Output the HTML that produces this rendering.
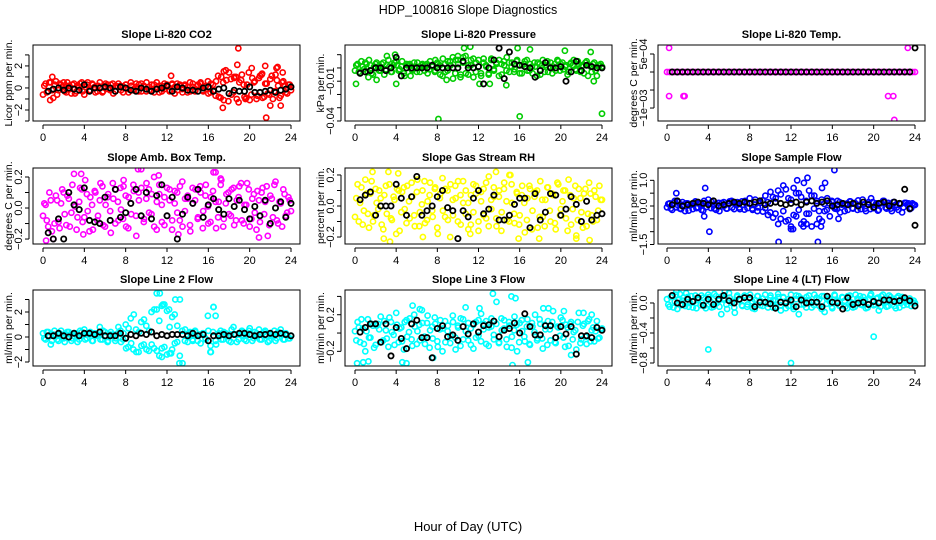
<!DOCTYPE html>
<html><head><meta charset="utf-8"><style>
html,body{margin:0;padding:0;background:#fff;}
svg{display:block;font-family:"Liberation Sans",Arial,sans-serif;}
</style></head><body>
<svg id="chart" width="936" height="540" viewBox="0 0 936 540" xmlns="http://www.w3.org/2000/svg">
<text x="468" y="14" text-anchor="middle" font-size="12.5">HDP_100816  Slope Diagnostics</text>
<text x="468" y="531" text-anchor="middle" font-size="13">Hour of Day (UTC)</text>
</svg>
<script>
// ---- data ----
const co2Col = [-0.6,0.4,-0.3,0.5,-0.9,0.6,-0.2,0.3,0.5,-0.4,0.2,-0.5,0.4,-0.3,0.1,0.5,-0.6,0.3,-0.2,0.4,0.1,-0.3,0.5,-0.4,0.2,0.3,-0.2,0.4,-0.3,0.1,0.2,-0.4,0.3,-0.1,0.5,-0.2,0.1,-0.3,0.4,0.2,-0.3,0.1,-0.2,0.3,0.5,-0.4,0.2,-0.1,0.3,-0.3,0.4,0.1,-0.2,0.3,-0.4,0.2,0.1,-0.3,0.4,-0.2,0.3,0.5,-0.3,0.2,-0.5,0.4,-0.2,0.6,-0.8,1.0,-1.1,0.7,1.4,-0.6,0.9,-1.0,0.5,1.2,-0.8,0.3,-1.1,0.9,0.6,-0.7,1.1,-0.9,0.4,-0.5,0.8,-1.0,1.2,0.2,-0.7,0.6,-0.4,0.3,-0.2];
const co2Col2 = [0.2,-0.4,0.5,-0.2,0.3,-0.6,0.4,0.1,-0.3,0.5,-0.1,0.3,-0.5,0.2,0.4,-0.3,0.1,0.5,-0.2,0.3,-0.4,0.2,0.1,-0.3,0.4,-0.1,0.3,-0.5,0.2,0.4,-0.2,0.1,0.3,-0.4,0.2,-0.1,0.4,0.3,-0.3,0.1,0.5,-0.2,0.3,-0.4,0.1,0.2,-0.3,0.4,0.1,-0.2,0.3,-0.5,0.4,0.2,-0.1,0.3,-0.4,0.5,0.1,-0.3,0.2,0.4,-0.2,0.1,0.6,-0.4,0.3,-0.7,1.1,-0.9,0.5,1.6,-1.2,0.8,-0.4,1.0,-1.3,0.7,0.3,-0.9,1.4,-0.6,0.5,-1.0,0.9,1.2,-0.8,0.4,-0.6,1.1,-0.3,0.7,-0.9,0.5,0.2,-0.5,0.3];
const co2Out = [[0.7,-1.1],[0.9,1.0],[12.4,1.1],[17.5,1.5],[17.4,-1.8],[18.9,3.6],[18.8,2.1],[18.5,1.0],[19.6,-1.0],[20.2,1.8],[21.5,2.0],[21.6,-2.7],[22.0,-1.6],[22.6,1.8],[23.0,-1.6],[23.2,1.4],[21.2,1.3],[22.7,1.9]];
const co2Mean = [-0.3,-0.1,0,-0.2,0,-0.1,-0.2,0.3,-0.3,0,0,0.1,0,-0.3,0.1,0,-0.2,-0.3,0,-0.1,-0.3,-0.1,0,0.2,-0.3,0.1,0,-0.2,-0.2,-0.3,0,0.1,-0.3,-0.1,0,-0.5,-0.2,-0.3,-0.3,0.1,-0.4,-0.4,-0.3,-0.2,-0.4,-0.2,-0.1,0.1];

const presCol = [-0.002,0.003,-0.004,0.001,0.004,-0.003,0.002,-0.005,0.003,0.001,-0.002,0.004,-0.001,0.006,-0.003,0.002,0.005,-0.002,0.001,-0.004,0.003,0.002,-0.001,0.004,-0.003,0.001,0.002,-0.002,0.003,-0.001,0.001,-0.003,0.004,0.002,-0.006,0.003,-0.002,0.005,0.008,-0.004,0.006,-0.007,0.004,0.009,-0.005,0.002,0.007,-0.003,0.006,-0.006,0.004,0.001,-0.004,0.007,-0.002,0.003,0.006,-0.005,0.002,0.008,-0.003,0.004,-0.001,0.006,-0.004,0.002,0.005,-0.002,0.003,-0.004,0.001,0.004,-0.005,0.006,0.002,-0.003,0.004,0.001,-0.002,0.005,0.003,-0.001,0.002,-0.003,0.004,0.006,-0.002,0.003,0.001,-0.004,0.005,0.002,-0.003,0.004,-0.006,0.002,0.001];
const presCol2 = [0.002,-0.003,0.005,-0.001,0.003,0.006,-0.004,0.001,0.004,-0.002,0.003,-0.005,0.002,0.001,-0.003,0.004,0.002,-0.001,0.005,-0.006,0.002,0.003,-0.002,0.001,0.004,-0.003,0.003,0.002,-0.004,0.005,0.001,-0.002,0.003,-0.005,0.007,-0.003,0.005,0.002,-0.008,0.006,0.003,-0.005,0.008,-0.004,0.002,0.006,-0.007,0.004,0.001,-0.004,0.007,0.002,-0.005,0.006,-0.001,0.004,-0.006,0.003,0.005,-0.002,0.004,0.001,-0.003,0.005,0.002,-0.004,0.003,0.006,-0.002,0.001,0.004,-0.006,0.003,0.002,-0.003,0.005,0.001,-0.004,0.003,0.006,-0.002,0.004,0.001,-0.005,0.003,0.002,-0.001,0.005,-0.003,0.002,0.004,-0.006,0.001,0.003,-0.002,0.002,0.003];
const presOut = [[0.1,-0.012],[1.3,-0.007],[2.1,-0.009],[3.1,0.009],[3.9,0.010],[4,-0.012],[5.4,-0.006],[7.8,0.006],[8.1,-0.0385],[8.9,-0.009],[10,0.009],[10.6,0.015],[11.2,0.016],[12.1,-0.012],[13.1,-0.012],[14.7,-0.013],[15.8,0.015],[16,-0.0365],[17,0.014],[20.4,0.013],[22.9,0.012],[23.2,-0.010],[24,-0.0345]];
const presMean = [-0.004,-0.003,-0.002,0,0,-0.002,0,0.008,-0.006,0,0,0,0,0,0.002,0,0,0,0,0,0.005,0,0,0.001,-0.012,0,0.006,0.015,-0.008,0.012,0.003,0.002,0.001,0,-0.007,-0.002,0.004,0,0,0.001,-0.010,-0.003,0.005,-0.002,0.002,0.001,0,0];

const tempCol = [0,0,0,0,0,0,0,0,0,0,0,0,0,0,0,0,0,0,0,0,0,0,0,0,0,0,0,0,0,0,0,0,0,0,0,0,0,0,0,0,0,0,0,0,0,0,0,0,0,0,0,0,0,0,0,0,0,0,0,0,0,0,0,0,0,0,0,0,0,0,0,0,0,0,0,0,0,0,0,0,0,0,0,0,0,0,0,0,0,0,0,0,0,0,0,0,0];
const tempCol2 = [];
const tempOut = [[0.2,0.00067],[23.3,0.00067],[0.2,-0.00067],[1.6,-0.00067],[1.7,-0.00067],[21.4,-0.00067],[21.9,-0.00067],[22.0,-0.00133]];
const tempMean = [0,0,0,0,0,0,0,0,0,0,0,0,0,0,0,0,0,0,0,0,0,0,0,0,0,0,0,0,0,0,0,0,0,0,0,0,0,0,0,0,0,0,0,0,0,0,0,0.00067];

const ambCol = [-0.05,0.02,-0.12,0.05,-0.2,0.08,-0.09,0.03,0.1,-0.11,0.06,-0.03,0.22,-0.14,0.04,0.12,-0.06,0.09,-0.15,0.02,0.11,-0.08,0.05,0.14,-0.12,0.07,-0.02,0.16,-0.1,0.04,0.13,-0.07,0.08,-0.13,0.03,0.15,-0.05,0.1,0.25,-0.09,0.06,0.12,-0.04,0.2,-0.14,0.09,0.02,-0.11,0.13,0.05,-0.08,0.11,-0.03,0.14,-0.12,0.06,0.08,-0.15,0.03,0.12,-0.06,0.1,-0.02,0.15,-0.1,0.07,0.23,-0.13,0.04,0.18,-0.07,0.09,-0.04,0.12,-0.11,0.05,0.14,-0.08,0.02,0.16,-0.12,0.06,-0.03,0.11,-0.09,0.13,0.04,-0.18,0.08,-0.06,0.17,-0.1,0.03,0.12,-0.05,0.07,-0.02];
const ambCol2 = [0.03,-0.08,0.1,-0.15,-0.1,0.05,-0.13,0.12,-0.04,0.08,-0.12,0.15,0.01,-0.06,0.13,-0.09,0.18,-0.02,0.07,-0.14,0.1,-0.05,0.16,-0.11,0.02,0.09,-0.16,0.06,0.12,-0.08,-0.01,0.14,-0.12,0.07,-0.04,0.11,-0.18,0.05,0.13,-0.07,0.16,-0.03,0.09,-0.12,0.04,0.15,-0.09,0.07,-0.05,0.12,-0.14,0.03,0.1,-0.08,0.17,-0.02,0.06,-0.11,0.13,0.05,-0.07,0.14,-0.13,0.08,0.01,-0.09,0.11,0.04,-0.06,0.15,-0.12,0.03,0.1,-0.05,0.13,-0.08,0.07,0.16,-0.1,0.02,0.12,-0.07,0.09,-0.14,0.05,0.1,-0.04,0.14,-0.11,0.06,0.15,-0.08,0.04,-0.12,0.09,-0.03,0.05];
const ambOut = [[0.3,-0.21],[3.7,0.22],[9.2,0.25],[16.7,0.23],[11.2,0.21],[20.9,-0.19],[17.2,0.19],[13.1,-0.17],[3.9,-0.17],[7.8,0.18]];
const ambMean = [-0.16,-0.2,-0.07,-0.2,0.1,0.02,-0.01,0.13,-0.08,-0.09,-0.1,0.07,-0.08,0.12,-0.06,-0.03,0.03,0.12,-0.05,0.1,-0.07,0.08,0.15,-0.05,0.07,-0.2,-0.04,0.07,0.03,0.12,-0.06,0.02,0.06,-0.01,-0.04,0.06,0.01,0.05,-0.01,-0.07,0.01,-0.05,0.05,-0.1,0,0.04,-0.06,0.03];

const rhCol = [-0.07,0.14,0.02,-0.12,0.17,-0.05,0.08,-0.1,0.11,-0.02,0.05,-0.15,0.13,0.22,-0.08,0.06,-0.18,0.1,-0.04,0.12,-0.11,0.03,0.15,-0.06,0.09,-0.13,0.01,0.16,-0.09,0.07,-0.03,0.11,-0.14,0.05,0.18,-0.07,0.1,-0.2,0.04,0.13,-0.1,0.07,0.16,-0.05,0.02,-0.12,0.14,0.08,-0.16,0.03,0.11,-0.08,0.19,-0.02,0.06,-0.13,0.1,-0.04,0.15,-0.09,0.2,0.02,-0.11,0.08,-0.06,0.13,-0.17,0.05,0.11,-0.03,0.09,-0.14,0.16,-0.07,0.04,0.12,-0.1,0.07,-0.15,0.14,-0.02,0.1,-0.08,0.17,-0.12,0.05,-0.19,0.11,-0.04,0.08,-0.13,0.15,-0.06,0.1,-0.09,0.13,0.04];
const rhCol2 = [0.05,-0.1,0.12,-0.03,0.08,-0.14,0.16,-0.06,0.02,0.1,-0.12,0.07,-0.05,0.14,-0.09,0.04,0.11,-0.16,0.09,-0.02,0.13,-0.08,0.06,-0.13,0.17,-0.04,0.1,-0.11,0.03,0.15,-0.07,0.12,-0.18,0.08,-0.03,0.11,-0.09,0.14,-0.06,0.05,0.16,-0.12,0.02,0.1,-0.15,0.07,-0.04,0.13,-0.1,0.09,-0.06,0.15,-0.13,0.04,0.12,-0.08,0.06,-0.16,0.11,0.03,-0.1,0.14,-0.05,0.09,-0.12,0.07,0.02,-0.09,0.13,-0.15,0.06,0.1,-0.07,0.04,-0.13,0.12,-0.03,0.08,-0.11,0.15,-0.06,0.03,0.1,-0.16,0.07,-0.02,0.13,-0.09,0.05,-0.14,0.11,-0.05,0.08,-0.1,0.06,-0.03,0.04];
const rhOut = [[1.7,0.22],[4.2,0.21],[3.4,-0.23],[2.8,-0.21],[13.7,0.22],[15.1,0.2],[17.9,-0.21],[21.5,-0.21],[22.8,-0.22],[6.6,-0.2],[11.2,-0.18],[15.9,-0.21]];
const rhMean = [0.04,0.07,0.09,-0.06,0,0,0,0.14,0.05,-0.06,0.06,0.19,-0.06,-0.03,0,0.06,0.1,-0.01,-0.03,-0.21,-0.03,-0.07,0.05,0.1,-0.05,-0.02,0.07,-0.09,-0.09,-0.06,0.01,0.05,0.05,-0.14,0.08,-0.09,-0.04,0.08,0.07,-0.06,-0.02,0.06,0.01,-0.1,0.03,-0.09,-0.06,-0.05];

const sfCol = [-0.05,0.1,-0.15,0.2,0.05,-0.1,0.15,-0.2,0.1,0.02,-0.12,0.18,-0.05,0.08,-0.18,0.12,0.25,-0.08,0.05,-0.15,0.12,-0.02,0.15,-0.1,0.08,0.2,-0.12,0.05,-0.06,0.18,-0.14,0.1,0.3,-0.1,0.05,-0.2,0.12,0.22,-0.08,0.15,-0.25,0.35,-0.3,0.6,-0.5,0.8,-0.6,0.3,-0.9,0.7,-0.4,0.5,-0.7,0.9,-0.3,0.6,-0.8,0.4,0.2,-0.5,0.7,-0.2,0.3,-0.4,0.15,-0.1,0.2,-0.25,0.1,0.05,-0.15,0.18,-0.1,0.08,0.22,-0.12,0.05,-0.2,0.15,0.3,-0.08,0.1,-0.15,0.12,0.2,-0.1,0.05,-0.2,0.15,-0.05,0.1,-0.25,0.12,0.05,-0.12,0.1,0.04];
const sfCol2 = [0.08,-0.1,0.12,-0.05,0.15,-0.12,0.05,0.1,-0.18,0.06,0.12,-0.08,0.1,-0.15,0.2,-0.04,0.08,0.15,-0.1,0.05,-0.2,0.12,0.02,-0.1,0.18,-0.06,0.1,0.15,-0.12,0.04,0.2,-0.08,0.1,-0.15,0.25,-0.05,0.12,-0.22,0.4,-0.35,0.55,-0.45,0.3,-0.7,0.45,-0.2,0.65,-0.55,0.25,-0.35,0.5,-0.15,0.35,-0.6,0.2,-0.3,0.4,-0.1,0.12,-0.2,0.25,0.08,-0.15,0.1,0.2,-0.05,-0.12,0.15,0.05,-0.2,0.1,0.18,-0.08,0.12,-0.15,0.05,0.25,-0.1,0.08,-0.12,0.15,0.04,-0.18,0.1,0.2,-0.06,0.12,-0.1,0.15,0.05,-0.15,0.08,-0.05,0.12,0.1,-0.08,0.06];
const sfOut = [[0.9,0.5],[3.7,0.7],[4.1,-1.0],[3.6,-0.4],[10.8,-1.4],[14.6,-1.4],[16.2,1.4],[13.6,1.1],[12.6,1.0],[15.3,0.9],[12,-0.8],[12.2,-0.9],[13.2,-0.8],[13.5,-0.7],[14.5,-0.7],[14.9,-0.8],[15,-0.6],[16.6,-0.5]];
const sfMean = [0.05,0.2,0,0.05,0.1,0.15,0.1,0.05,0.2,0,0.05,0.1,0.15,0.1,0.15,0.1,0.15,0.2,0.05,0.1,0.15,0.1,0.05,0.1,0.15,0.05,0.15,0.2,0.1,0.15,0.2,0,0.05,0.1,0.05,0.1,0,0.15,0.05,-0.05,0.1,0.15,0,0.15,0.1,0.65,-0.1,-0.75];

const l2Col = [0.3,-0.2,0.4,-0.6,0.2,0.1,-0.3,0.5,-0.1,0.2,0.4,-0.3,0.1,0.3,-0.2,0.4,0.6,-0.1,0.2,-0.3,0.3,0.1,0.8,-0.2,0.4,-0.4,0.2,0.1,-0.3,0.3,0.5,-0.2,1.0,-0.8,1.5,-1.0,0.6,-1.2,1.2,-0.6,0.9,-1.1,2.0,-0.9,3.5,-1.5,2.5,-0.8,2.1,-1.3,1.6,-0.5,0.9,3.0,-2.1,0.6,-0.4,0.3,-0.3,0.4,0.2,-0.5,0.3,-0.2,0.5,-1.2,2.4,-0.6,0.3,-0.2,0.4,0.1,-0.3,0.6,0.2,-0.4,0.3,0.5,-0.2,0.2,0.7,-0.3,0.4,0.1,-0.2,0.3,0.5,-0.4,0.2,0.1,-0.3,0.4,0.6,-0.2,0.3,-0.1,0.1];
const l2Col2 = [-0.1,0.4,0.1,-0.3,0.5,-0.2,0.3,0.1,-0.4,0.4,0.2,-0.1,0.3,-0.4,0.5,0.1,-0.2,0.3,0.4,-0.3,0.1,0.2,-0.2,0.5,0.1,-0.3,0.4,0.2,-0.1,0.8,-0.4,0.3,-0.9,0.7,-0.5,1.8,-1.2,0.4,-0.7,1.4,-1.0,0.5,-0.6,2.2,-1.1,1.3,-0.9,2.6,-1.4,0.8,-1.0,1.8,-0.4,-1.5,0.5,-0.3,0.2,0.4,-0.2,0.5,-0.3,0.2,0.3,-0.1,1.7,-0.7,0.4,-0.3,0.2,0.5,-0.2,0.3,0.1,-0.4,0.8,0.2,-0.2,0.4,0.1,-0.3,0.5,0.2,-0.1,0.3,0.6,-0.2,0.4,0.1,-0.3,0.2,0.5,-0.1,0.3,0.2,-0.2,0.1,-0.1];
const l2Out = [[11.3,3.5],[12.8,3.0],[11.6,2.6],[11,2.2],[12.2,2.2],[16.5,2.4],[16.7,1.7],[13.2,-2.1],[11.5,-1.6],[12.4,-1.3],[16.2,-1.2]];
const l2Mean = [0.1,0.1,0.3,0.1,0,0.3,0.1,0.3,0.3,0.2,0.4,0.1,0.1,0.1,0.3,-0.1,0.2,0.1,0.3,0.2,0.4,0.1,0.2,0.1,0.2,0.2,0.2,0.1,0.3,0.1,0.2,-0.3,0.1,0.1,0.2,0.1,0.2,0.3,0.3,0.2,0.1,0.2,0.2,0.3,0.2,0.3,0.2,0.1];

const l3Col = [0.02,0.12,-0.1,0.05,-0.2,0.15,-0.05,0.08,-0.13,0.1,0.18,-0.08,0.03,-0.15,0.12,-0.02,0.22,-0.1,0.06,-0.18,0.14,0.01,-0.07,0.2,-0.12,0.09,0.25,-0.04,0.11,-0.16,0.07,0.17,-0.09,0.04,-0.2,0.13,0.02,-0.11,0.19,-0.05,0.08,-0.14,0.15,0.28,-0.08,0.05,-0.17,0.12,-0.03,0.21,0.1,-0.12,0.06,0.16,-0.07,0.34,-0.1,0.03,0.14,-0.15,0.08,-0.04,0.18,-0.2,0.11,0.02,-0.09,0.15,-0.13,0.07,0.2,-0.06,0.1,-0.17,0.04,0.13,-0.08,0.24,-0.11,0.06,0.17,-0.05,0.09,-0.14,0.12,0.01,-0.18,0.22,-0.07,0.1,-0.12,0.15,0.03,-0.09,0.13,-0.05,0.05];
const l3Col2 = [-0.08,0.06,0.15,-0.12,0.02,-0.05,0.1,-0.16,0.08,0.04,-0.1,0.13,-0.06,0.17,0.01,-0.13,0.09,0.05,-0.09,0.12,-0.04,0.16,-0.14,0.07,0.02,-0.08,0.11,-0.12,0.19,0.03,-0.06,0.1,-0.15,0.14,0.05,-0.1,0.08,-0.03,0.12,-0.18,0.06,0.16,-0.07,0.02,0.11,-0.13,0.09,-0.05,0.14,-0.09,0.04,0.13,-0.14,0.07,-0.02,0.1,-0.11,0.16,0.05,-0.07,0.12,-0.16,0.03,0.09,-0.1,0.14,-0.04,0.07,-0.12,0.11,0.01,-0.08,0.15,-0.06,0.09,-0.13,0.04,0.12,-0.1,0.07,-0.03,0.14,-0.15,0.06,0.1,-0.07,0.03,0.12,-0.11,0.08,-0.04,0.13,-0.09,0.06,0.02,-0.06,0.04];
const l3Out = [[0.2,-0.33],[0.8,-0.32],[1.3,-0.31],[4.6,-0.32],[5,-0.33],[7.6,-0.27],[5.6,0.3],[6.3,0.26],[12.1,0.27],[13.4,0.43],[15.2,0.4],[15.6,0.38],[15.3,-0.35],[16.8,-0.32],[18.3,0.27],[18.8,0.27],[20.3,0.24],[22.2,0.22],[23,0.2],[21,-0.24]];
const l3Mean = [0.01,0.06,0.1,0.1,-0.1,0.1,-0.25,0.06,-0.06,-0.17,0.1,0.14,-0.05,-0.05,-0.27,0.05,0.08,-0.04,-0.02,-0.08,0.07,-0.01,0.1,0.01,0.08,0.09,0.13,-0.04,0.03,0.05,0.11,0,0.21,0.07,-0.02,-0.02,0.08,0.08,-0.05,0.07,-0.01,0.07,-0.23,-0.03,-0.03,-0.05,0.06,0.03];

const l4Col = [0.05,-0.05,0.1,0.02,-0.08,0.12,0.03,-0.04,0.08,0.0,-0.06,0.1,0.04,-0.03,0.07,-0.07,0.11,0.01,-0.05,0.09,0.03,-0.15,0.06,-0.02,0.13,0.0,-0.06,0.08,0.04,-0.03,0.1,-0.05,0.06,0.02,-0.08,0.09,0.03,-0.04,0.11,-0.01,0.07,-0.06,0.04,0.12,-0.03,0.08,-0.07,0.05,0.02,-0.05,0.1,-0.15,0.06,-0.02,0.08,0.03,-0.06,0.11,0.01,-0.04,0.09,-0.12,0.05,0.02,-0.07,0.1,0.03,-0.03,0.07,-0.05,0.09,0.01,-0.06,0.11,0.04,-0.02,0.08,-0.07,0.05,0.12,-0.03,0.06,-0.1,0.09,0.02,-0.05,0.1,0.04,-0.04,0.07,-0.06,0.08,0.03,-0.02,0.06,0.01,0.0];
const l4Col2 = [-0.02,0.08,-0.06,0.11,0.04,-0.03,0.07,0.13,-0.05,0.09,0.02,-0.07,0.06,0.1,-0.04,0.03,0.08,-0.06,0.12,0.0,-0.05,0.09,0.04,-0.08,0.07,0.02,-0.13,0.1,0.05,-0.04,0.08,-0.02,0.11,-0.07,0.04,0.09,-0.03,0.06,0.01,-0.06,0.1,0.03,-0.05,0.08,-0.1,0.07,0.02,-0.04,0.11,-0.08,0.05,0.09,-0.02,0.04,-0.06,0.1,0.01,-0.03,0.07,0.05,-0.08,0.09,-0.01,0.06,-0.05,0.11,0.02,-0.04,0.08,0.03,-0.07,0.1,0.0,-0.05,0.06,0.09,-0.03,0.04,-0.06,0.1,0.02,-0.02,0.07,-0.05,0.11,0.01,-0.04,0.08,0.03,-0.07,0.09,0.0,-0.03,0.05,0.02,-0.04,0.03];
const l4Out = [[4,-0.62],[12,-0.8],[20,-0.45],[0.9,0.15],[5.6,0.15]];
const l4Mean = [0.1,0,-0.02,0.05,0.02,0.07,-0.03,0.05,-0.02,0.05,0.1,0.03,0,0.05,0.07,0.07,-0.05,0.01,0.01,-0.01,-0.07,0.01,0,0.04,-0.05,0.04,0,0.01,0.01,-0.05,0.09,0.01,0,-0.08,0.07,-0.02,0,0.01,-0.02,0.02,0,0.04,0.04,0.02,0.03,0.07,0.03,-0.04];

const xTicks = [0,4,8,12,16,20,24];
const panelTitles = ["Slope Li-820 CO2","Slope Li-820 Pressure","Slope Li-820 Temp.","Slope Amb. Box Temp.","Slope Gas Stream RH","Slope Sample Flow","Slope Line 2 Flow","Slope Line 3 Flow","Slope Line 4 (LT) Flow"];
const yTitles = ["Licor ppm per min.","kPa per min.","degrees C per min.","degrees C per min.","percent per min.","ml/min per min.","ml/min per min.","ml/min per min.","ml/min per min."];
const yTickVals = [[-3,-2,-1,0,1,2,3],[0.01,0,-0.01,-0.02,-0.03,-0.04],[0.0005,0,-0.0005,-0.001],[-0.2,-0.1,0,0.1,0.2],[-0.2,-0.1,0,0.1,0.2],[-1.5,-1,-0.5,0,0.5,1],[-2,-1,0,1,2,3],[-0.2,0,0.2,0.4],[-0.8,-0.6,-0.4,-0.2,0]];
const yTickLabels = [{"-2":"\u22122","0":"0","2":"2"},{"-0.01":"\u22120.01","-0.04":"\u22120.04"},{"0.0005":"5e\u221204","-0.001":"\u22121e\u221203"},{"0.2":"0.2","0":"0.0","-0.2":"\u22120.2"},{"0.2":"0.2","0":"0.0","-0.2":"\u22120.2"},{"1":"1.0","0":"0.0","-1.5":"\u22121.5"},{"2":"2","0":"0","-2":"\u22122"},{"0.2":"0.2","-0.2":"\u22120.2"},{"0":"0.0","-0.4":"\u22120.4","-0.8":"\u22120.8"}];
const yLimits = [[-3.0,3.9],[-0.04,0.0173],[-0.00136,0.00075],[-0.232,0.258],[-0.245,0.245],[-1.48,1.48],[-2.32,3.76],[-0.36,0.47],[-0.84,0.173]];
const colorSets = [[co2Col,co2Col2,co2Out,co2Mean],[presCol,presCol2,presOut,presMean],[tempCol,tempCol2,tempOut,tempMean],[ambCol,ambCol2,ambOut,ambMean],[rhCol,rhCol2,rhOut,rhMean],[sfCol,sfCol2,sfOut,sfMean],[l2Col,l2Col2,l2Out,l2Mean],[l3Col,l3Col2,l3Out,l3Mean],[l4Col,l4Col2,l4Out,l4Mean]];
const seriesColors = ["#ff0000","#00cc00","#ff00ff","#ff00ff","#ffff00","#0000ff","#00ffff","#00ffff","#00ffff"];

// ---- layout ----
const colBox = [[33,300,43,291],[345,612,355,602],[658,925,667,915]];
const rowBox = [[45,121],[168,244],[290,366]];
const NS = "http://www.w3.org/2000/svg";
const svg = document.getElementById('chart');
function mk(tag, attrs, parent){ const e=document.createElementNS(NS,tag); for(const k in attrs) e.setAttribute(k,attrs[k]); (parent||svg).appendChild(e); return e; }
const keys = ["co2","pressure","licor-temp","amb-box-temp","gas-rh","sample-flow","line2-flow","line3-flow","line4-flow"];

for (let p=0;p<9;p++){
  const [bl,br,x0,x24] = colBox[p%3];
  const [bt,bb] = rowBox[Math.floor(p/3)];
  const [ymin,ymax] = yLimits[p];
  const xs = h => x0 + (x24-x0)*h/24;
  const ys = v => bb - (v-ymin)/(ymax-ymin)*(bb-bt);
  const g = mk('g',{});
  
  
  const t = mk('text',{x:(bl+br)/2,y:bt-7,'text-anchor':'middle','font-size':'11','font-weight':'bold'},g);
  t.textContent = panelTitles[p];
  
  
  const yt = mk('text',{x:0,y:0,'text-anchor':'middle','font-size':'10.5',transform:`translate(${bl-21},${(bt+bb)/2}) rotate(-90)`},g);
  yt.textContent = yTitles[p];
  
  
  // clip & points
  const cid = 'clip'+p;
  const cp = mk('clipPath',{id:cid},g); mk('rect',{x:bl,y:bt,width:br-bl,height:bb-bt},cp);
  const pts = mk('g',{'clip-path':`url(#${cid})`,fill:'none'},g);
  
  
  const [cA,cB,out,mean] = colorSets[p];
  const col = seriesColors[p];
  const dot = (h,v,c,sw,r) => { const c1 = mk('circle',{cx:xs(h).toFixed(1),cy:ys(v).toFixed(1),r:r,stroke:c,'stroke-width':sw},pts);
    
     };
  cA.forEach((v,i)=>dot(i*24/(cA.length-1),v,col,1.6,2.6));
  cB.forEach((v,i)=>dot((i+0.5)*24/cB.length,v,col,1.6,2.6));
  out.forEach(d=>dot(d[0],d[1],col,1.6,2.6));
  mean.forEach((v,i)=>dot(0.5+i*23.5/(mean.length-1),v,'#000',1.8,2.6));
  // box
  const bx = mk('rect',{x:bl,y:bt,width:br-bl,height:bb-bt,fill:'none',stroke:'#000','stroke-width':1},g);
  
  
  // x axis
  const xa = mk('g',{stroke:'#000','stroke-width':1},g);
  
  
  mk('line',{x1:xs(0),x2:xs(24),y1:bb+4,y2:bb+4},xa);
  xTicks.forEach(h=>{ mk('line',{x1:xs(h),x2:xs(h),y1:bb+4,y2:bb+8},xa);
    const l = mk('text',{x:xs(h),y:bb+20,'text-anchor':'middle','font-size':'11',stroke:'none',fill:'#000'},g);
    l.textContent = h;
    
     });
  // y axis
  const ya = mk('g',{stroke:'#000','stroke-width':1},g);
  
  
  const tv = yTickVals[p];
  const yMinT = Math.min(...tv), yMaxT = Math.max(...tv);
  mk('line',{x1:bl-4,x2:bl-4,y1:ys(yMinT),y2:ys(yMaxT)},ya);
  tv.forEach(v=>{ mk('line',{x1:bl-4,x2:bl-8,y1:ys(v),y2:ys(v)},ya);
    const lab = yTickLabels[p][String(v)];
    if (lab!==undefined){
      const l = mk('text',{x:0,y:0,'text-anchor':'middle','font-size':'11',transform:`translate(${bl-11},${ys(v)}) rotate(-90)`},g);
      l.textContent = lab;
      
      
    }});
}
</script>
</body></html>
